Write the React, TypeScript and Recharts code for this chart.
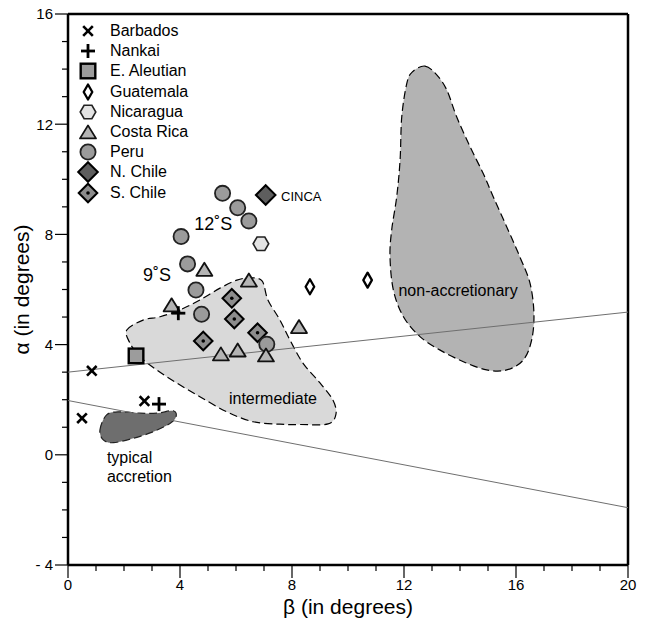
import React from 'react';
import { ScatterChart, Scatter, XAxis, YAxis, Legend, ReferenceLine } from 'recharts';

type Pt = { beta: number; alpha: number };
type Lbl = { beta: number; alpha: number; text: string };

// ---- data (β, α in degrees) ----
const barbados: Pt[] = [
  { beta: 0.85, alpha: 3.05 },
  { beta: 0.5, alpha: 1.33 },
  { beta: 2.73, alpha: 1.95 },
];
const nankai: Pt[] = [
  { beta: 3.25, alpha: 1.84 },
  { beta: 3.94, alpha: 5.14 },
];
const eAleutian: Pt[] = [{ beta: 2.43, alpha: 3.59 }];
const guatemala: Pt[] = [
  { beta: 8.64, alpha: 6.1 },
  { beta: 10.7, alpha: 6.34 },
];
const nicaragua: Pt[] = [{ beta: 6.89, alpha: 7.66 }];
const costaRica: Pt[] = [
  { beta: 3.7, alpha: 5.44 },
  { beta: 4.87, alpha: 6.73 },
  { beta: 6.46, alpha: 6.34 },
  { beta: 8.25, alpha: 4.65 },
  { beta: 5.46, alpha: 3.66 },
  { beta: 6.06, alpha: 3.8 },
  { beta: 7.07, alpha: 3.62 },
];
const peru: Pt[] = [
  { beta: 5.52, alpha: 9.49 },
  { beta: 6.06, alpha: 8.97 },
  { beta: 6.46, alpha: 8.49 },
  { beta: 4.04, alpha: 7.92 },
  { beta: 4.27, alpha: 6.93 },
  { beta: 4.57, alpha: 5.98 },
  { beta: 4.77, alpha: 5.1 },
  { beta: 7.1, alpha: 4.01 },
];
const nChile: Pt[] = [{ beta: 7.06, alpha: 9.43 }];
const sChile: Pt[] = [
  { beta: 5.85, alpha: 5.68 },
  { beta: 5.94, alpha: 4.93 },
  { beta: 6.77, alpha: 4.43 },
  { beta: 4.83, alpha: 4.13 },
];

// field outlines
const nonAccretionary: Pt[] = [
  { beta: 12.75, alpha: 14.11 }, { beta: 13.17, alpha: 13.79 }, { beta: 13.53, alpha: 13.24 },
  { beta: 13.88, alpha: 12.27 }, { beta: 14.36, alpha: 11.18 }, { beta: 14.83, alpha: 10.21 },
  { beta: 15.19, alpha: 9.36 }, { beta: 15.67, alpha: 8.27 }, { beta: 16.14, alpha: 7.18 },
  { beta: 16.5, alpha: 6.23 }, { beta: 16.64, alpha: 5.14 }, { beta: 16.56, alpha: 4.17 },
  { beta: 16.26, alpha: 3.44 }, { beta: 15.67, alpha: 3.08 }, { beta: 14.95, alpha: 3.08 },
  { beta: 14.12, alpha: 3.38 }, { beta: 13.29, alpha: 3.8 }, { beta: 12.57, alpha: 4.29 },
  { beta: 11.98, alpha: 5.01 }, { beta: 11.62, alpha: 5.98 }, { beta: 11.5, alpha: 7.19 },
  { beta: 11.56, alpha: 8.16 }, { beta: 11.74, alpha: 9.37 }, { beta: 11.86, alpha: 10.7 },
  { beta: 11.92, alpha: 12.27 }, { beta: 12.1, alpha: 13.48 }, { beta: 12.3, alpha: 13.9 },
];
const intermediate: Pt[] = [
  { beta: 2.1, alpha: 4.53 }, { beta: 2.68, alpha: 4.89 }, { beta: 3.29, alpha: 5.01 },
  { beta: 4.0, alpha: 5.26 }, { beta: 4.71, alpha: 5.62 }, { beta: 5.43, alpha: 6.05 },
  { beta: 6.03, alpha: 6.34 }, { beta: 6.5, alpha: 6.42 }, { beta: 6.93, alpha: 6.31 },
  { beta: 7.14, alpha: 5.62 }, { beta: 7.57, alpha: 4.89 }, { beta: 7.93, alpha: 4.16 },
  { beta: 8.39, alpha: 3.33 }, { beta: 9.0, alpha: 2.61 }, { beta: 9.46, alpha: 1.99 },
  { beta: 9.57, alpha: 1.48 }, { beta: 9.29, alpha: 1.12 }, { beta: 8.29, alpha: 1.1 },
  { beta: 7.57, alpha: 1.11 }, { beta: 6.61, alpha: 1.2 }, { beta: 5.67, alpha: 1.56 },
  { beta: 4.71, alpha: 2.11 }, { beta: 3.88, alpha: 2.61 }, { beta: 3.17, alpha: 3.08 },
  { beta: 2.57, alpha: 3.56 }, { beta: 2.21, alpha: 4.06 },
];
const typicalAccretion: Pt[] = [
  { beta: 1.14, alpha: 0.9 }, { beta: 1.38, alpha: 1.45 }, { beta: 1.86, alpha: 1.56 },
  { beta: 2.57, alpha: 1.51 }, { beta: 3.17, alpha: 1.51 }, { beta: 3.76, alpha: 1.6 },
  { beta: 3.86, alpha: 1.38 }, { beta: 3.64, alpha: 1.14 }, { beta: 3.05, alpha: 0.84 },
  { beta: 2.33, alpha: 0.6 }, { beta: 1.62, alpha: 0.44 }, { beta: 1.26, alpha: 0.54 },
];

// straight reference lines
const upperLine: Pt[] = [{ beta: 0, alpha: 3.0 }, { beta: 20, alpha: 5.18 }];
const lowerLine: Pt[] = [{ beta: 0, alpha: 1.97 }, { beta: 20, alpha: -1.92 }];

// annotations
const fieldLabels: Lbl[] = [
  { beta: 7.32, alpha: 2.06, text: 'intermediate' },
  { beta: 13.93, alpha: 5.98, text: 'non-accretionary' },
];
const accretionLabels: Lbl[] = [
  { beta: 1.39, alpha: -0.08, text: 'typical' },
  { beta: 1.39, alpha: -0.77, text: 'accretion' },
];
const latitudeLabels: Lbl[] = [
  { beta: 5.19, alpha: 8.41, text: '12˚S' },
  { beta: 3.18, alpha: 6.56, text: '9˚S' },
];
const cincaLabel: Lbl[] = [{ beta: 7.61, alpha: 9.37, text: 'CINCA' }];

const xTicks = [0, 1, 2, 3, 4, 5, 6, 7, 8, 9, 10, 11, 12, 13, 14, 15, 16, 17, 18, 19, 20];
const yTicks = [-4, -3, -2, -1, 0, 1, 2, 3, 4, 5, 6, 7, 8, 9, 10, 11, 12, 13, 14, 15, 16];
const yTickLabels: Record<number, string> = { [-4]: '- 4', 0: '0', 4: '4', 8: '8', 12: '12', 16: '16' };

const legendItems = [
  { kind: 'x', name: 'Barbados' },
  { kind: 'plus', name: 'Nankai' },
  { kind: 'square', name: 'E. Aleutian' },
  { kind: 'thinDiamond', name: 'Guatemala' },
  { kind: 'hexagon', name: 'Nicaragua' },
  { kind: 'triangle', name: 'Costa Rica' },
  { kind: 'circle', name: 'Peru' },
  { kind: 'diamond', name: 'N. Chile' },
  { kind: 'dotDiamond', name: 'S. Chile' },
];

const FONT = '"Liberation Sans", Arial, Helvetica, sans-serif';

function Marker({ kind, cx, cy }: { kind: string; cx: number; cy: number }) {
  switch (kind) {
    case 'x': {
      const h = 4.8;
      return (
        <g stroke="#000" strokeWidth={2.6}>
          <line x1={cx - h} y1={cy - h} x2={cx + h} y2={cy + h} />
          <line x1={cx - h} y1={cy + h} x2={cx + h} y2={cy - h} />
        </g>
      );
    }
    case 'plus': {
      const h = 7;
      return (
        <g stroke="#000" strokeWidth={2.8}>
          <line x1={cx - h} y1={cy} x2={cx + h} y2={cy} />
          <line x1={cx} y1={cy - h} x2={cx} y2={cy + h} />
        </g>
      );
    }
    case 'square':
      return <rect x={cx - 7.3} y={cy - 7.3} width={14.6} height={14.6} fill="#9c9c9c" stroke="#000" strokeWidth={2.4} />;
    case 'thinDiamond':
      return (
        <polygon
          points={`${cx},${cy - 7.5} ${cx + 4.3},${cy} ${cx},${cy + 7.5} ${cx - 4.3},${cy}`}
          fill="#fff" stroke="#000" strokeWidth={2.3} strokeLinejoin="round"
        />
      );
    case 'hexagon':
      return (
        <polygon
          points={`${cx - 7.8},${cy} ${cx - 3.9},${cy - 6.7} ${cx + 3.9},${cy - 6.7} ${cx + 7.8},${cy} ${cx + 3.9},${cy + 6.7} ${cx - 3.9},${cy + 6.7}`}
          fill="#e3e3e3" stroke="#222" strokeWidth={1.6}
        />
      );
    case 'triangle':
      return (
        <polygon
          points={`${cx},${cy - 6.6} ${cx + 8},${cy + 6.4} ${cx - 8},${cy + 6.4}`}
          fill="#b4b4b4" stroke="#111" strokeWidth={1.8} strokeLinejoin="round"
        />
      );
    case 'circle':
      return <circle cx={cx} cy={cy} r={7.6} fill="#9b9b9b" stroke="#222" strokeWidth={1.8} />;
    case 'diamond':
      return (
        <polygon
          points={`${cx},${cy - 9.8} ${cx + 9.8},${cy} ${cx},${cy + 9.8} ${cx - 9.8},${cy}`}
          fill="#5e5e5e" stroke="#000" strokeWidth={2}
        />
      );
    case 'dotDiamond':
      return (
        <g>
          <polygon
            points={`${cx},${cy - 9.3} ${cx + 9.3},${cy} ${cx},${cy + 9.3} ${cx - 9.3},${cy}`}
            fill="#8c8c8c" stroke="#000" strokeWidth={2}
          />
          <circle cx={cx} cy={cy} r={1.8} fill="#000" />
        </g>
      );
    default:
      return <g />;
  }
}

const shapeOf = (kind: string) => (p: any) => <Marker kind={kind} cx={p.cx} cy={p.cy} />;
const noShape = () => <g />;

function smoothClosed(pts: { x: number; y: number }[]) {
  const n = pts.length;
  let d = `M${pts[0].x},${pts[0].y}`;
  for (let i = 0; i < n; i++) {
    const p0 = pts[(i - 1 + n) % n];
    const p1 = pts[i];
    const p2 = pts[(i + 1) % n];
    const p3 = pts[(i + 2) % n];
    const c1x = p1.x + (p2.x - p0.x) / 6;
    const c1y = p1.y + (p2.y - p0.y) / 6;
    const c2x = p2.x - (p3.x - p1.x) / 6;
    const c2y = p2.y - (p3.y - p1.y) / 6;
    d += ` C${c1x},${c1y} ${c2x},${c2y} ${p2.x},${p2.y}`;
  }
  return d + ' Z';
}

const regionLine = (fill: string, stroke: string) => (props: any) =>
  (
    <path
      d={smoothClosed(props.points)}
      fill={fill}
      stroke={stroke}
      strokeWidth={1.2}
      strokeDasharray="8 4"
    />
  );

const straightLine = (props: any) => {
  const [a, b] = props.points;
  return <line x1={a.x} y1={a.y} x2={b.x} y2={b.y} stroke="#6f6f6f" strokeWidth={1} />;
};

const textShape = (size: number, anchor: 'start' | 'middle') => (p: any) =>
  (
    <text
      x={p.cx}
      y={p.cy}
      dy="0.36em"
      textAnchor={anchor}
      fontSize={size}
      fontFamily={FONT}
      fill="#000"
    >
      {p.payload.text}
    </text>
  );

const XTick = (props: any) => {
  const { x, y, payload } = props;
  const major = payload.value % 4 === 0;
  return (
    <g>
      <line x1={x} x2={x} y1={y} y2={y + (major ? 13 : 6)} stroke="#000" strokeWidth={1.2} />
      {major && (
        <text x={x} y={y + 25} textAnchor="middle" fontSize={15} fontFamily={FONT} fill="#000">
          {payload.value}
        </text>
      )}
    </g>
  );
};

const YTick = (props: any) => {
  const { x, y, payload } = props;
  const label = yTickLabels[payload.value];
  const major = label !== undefined;
  return (
    <g>
      <line x1={x} x2={x - (major ? 13 : 6)} y1={y} y2={y} stroke="#000" strokeWidth={1.2} />
      {major && (
        <text x={x - 15} y={y} dy="0.36em" textAnchor="end" fontSize={15} fontFamily={FONT} fill="#000">
          {label}
        </text>
      )}
    </g>
  );
};

const LegendContent = () => (
  <div style={{ fontFamily: FONT, fontSize: 16, color: '#000' }}>
    {legendItems.map((it) => (
      <div key={it.name} style={{ display: 'flex', alignItems: 'center', height: 20.2 }}>
        <svg width={24} height={20} style={{ display: 'block', overflow: 'visible' }}>
          <Marker kind={it.kind} cx={12} cy={10} />
        </svg>
        <span style={{ marginLeft: 10, lineHeight: '20px', whiteSpace: 'nowrap' }}>{it.name}</span>
      </div>
    ))}
  </div>
);

export default function App() {
  return (
    <div style={{ position: 'absolute', left: 0, top: 0 }}>
      <ScatterChart width={646} height={631} margin={{ top: 14, right: 18, bottom: 0, left: 0 }}>
        <XAxis
          type="number"
          dataKey="beta"
          domain={[0, 20]}
          ticks={xTicks}
          interval={0}
          tick={<XTick />}
          tickLine={false}
          tickSize={0}
          tickMargin={0}
          height={66}
          axisLine={{ stroke: '#000', strokeWidth: 2.5 }}
          label={{ value: 'β (in degrees)', position: 'insideBottom', offset: 17, fontSize: 21, fontFamily: FONT, fill: '#000' }}
        />
        <YAxis
          type="number"
          dataKey="alpha"
          domain={[-4, 16]}
          ticks={yTicks}
          interval={0}
          tick={<YTick />}
          tickLine={false}
          tickSize={0}
          tickMargin={0}
          width={68}
          axisLine={{ stroke: '#000', strokeWidth: 2.5 }}
          label={{
            value: 'α (in degrees)',
            angle: -90,
            position: 'insideLeft',
            offset: 22,
            fontSize: 21,
            fontFamily: FONT,
            fill: '#000',
            style: { textAnchor: 'middle' },
          }}
        />
        <ReferenceLine y={16} stroke="#000" strokeWidth={2.5} />
        <ReferenceLine x={20} stroke="#000" strokeWidth={2.5} />
        <Legend
          layout="vertical"
          align="center"
          verticalAlign="middle"
          content={() => <LegendContent />}
          wrapperStyle={{ left: 76, top: 21, width: 140, height: 190 }}
        />

        <Scatter data={nonAccretionary} line={regionLine('#b3b3b3', '#000')} shape={noShape} isAnimationActive={false} />
        <Scatter data={intermediate} line={regionLine('#d9d9d9', '#000')} shape={noShape} isAnimationActive={false} />
        <Scatter data={typicalAccretion} line={regionLine('#6e6e6e', '#222')} shape={noShape} isAnimationActive={false} />

        <Scatter data={upperLine} line={straightLine} shape={noShape} isAnimationActive={false} />
        <Scatter data={lowerLine} line={straightLine} shape={noShape} isAnimationActive={false} />

        <Scatter data={fieldLabels} shape={textShape(16, 'middle')} isAnimationActive={false} />
        <Scatter data={accretionLabels} shape={textShape(16, 'start')} isAnimationActive={false} />
        <Scatter data={latitudeLabels} shape={textShape(18, 'middle')} isAnimationActive={false} />
        <Scatter data={cincaLabel} shape={textShape(13, 'start')} isAnimationActive={false} />

        <Scatter name="E. Aleutian" data={eAleutian} shape={shapeOf('square')} isAnimationActive={false} />
        <Scatter name="Guatemala" data={guatemala} shape={shapeOf('thinDiamond')} isAnimationActive={false} />
        <Scatter name="Nicaragua" data={nicaragua} shape={shapeOf('hexagon')} isAnimationActive={false} />
        <Scatter name="S. Chile" data={sChile} shape={shapeOf('dotDiamond')} isAnimationActive={false} />
        <Scatter name="N. Chile" data={nChile} shape={shapeOf('diamond')} isAnimationActive={false} />
        <Scatter name="Peru" data={peru} shape={shapeOf('circle')} isAnimationActive={false} />
        <Scatter name="Costa Rica" data={costaRica} shape={shapeOf('triangle')} isAnimationActive={false} />
        <Scatter name="Barbados" data={barbados} shape={shapeOf('x')} isAnimationActive={false} />
        <Scatter name="Nankai" data={nankai} shape={shapeOf('plus')} isAnimationActive={false} />
      </ScatterChart>
    </div>
  );
}
